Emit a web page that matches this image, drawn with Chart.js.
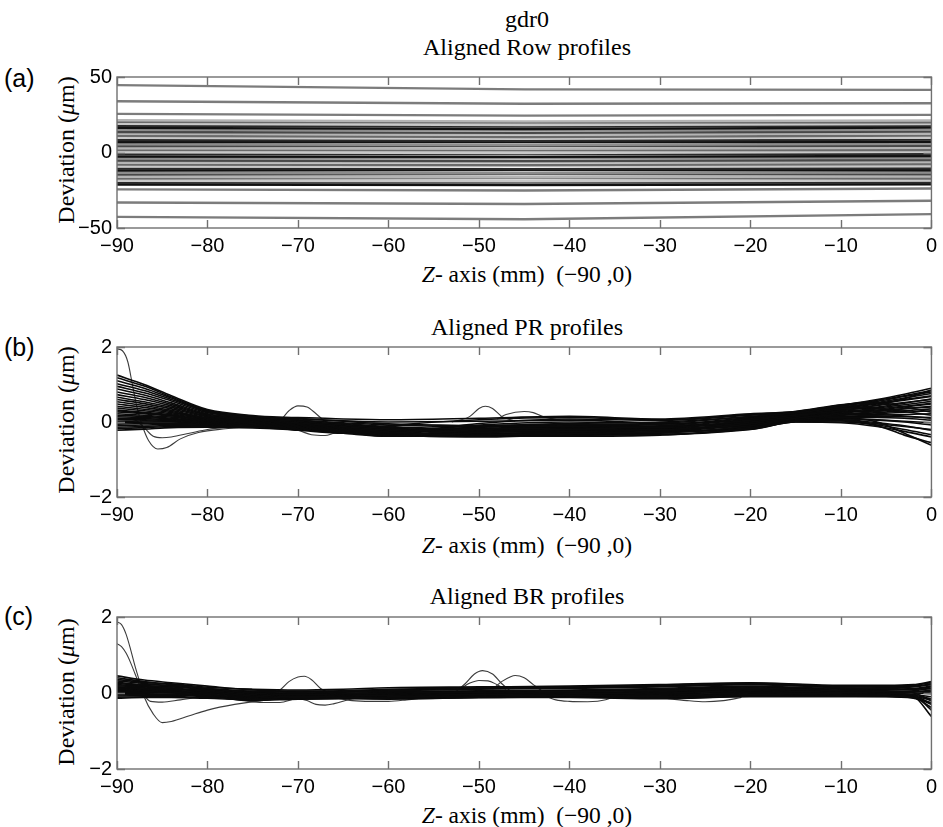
<!DOCTYPE html>
<html>
<head>
<meta charset="utf-8">
<script src="https://cdn.jsdelivr.net/npm/chart.js@4.4.1/dist/chart.umd.min.js"></script>
<style>
  html, body { margin: 0; padding: 0; background: #fff; }
  #page { position: relative; width: 943px; height: 827px; overflow: hidden; }
  canvas { position: absolute; left: 0; }
  .txt { position: absolute; white-space: nowrap; transform: translate(-50%, -50%); color: #000; }
  .serif { font-family: 'Liberation Serif', 'DejaVu Serif', serif; }
  .ttl { font-size: 24px; }
  .xlab { font-size: 23.5px; }
  .ylab { font-size: 24px; transform: translate(-50%, -50%) rotate(-90deg); }
  .tag { font-family: 'Liberation Sans', Arial, sans-serif; font-size: 25px; transform: translate(0, -50%); }
</style>
</head>
<body>
<div id="page">
  <div class="txt serif ttl" style="left:527px;top:19px">gdr0</div>
  <div class="txt serif ttl" style="left:527px;top:47px">Aligned Row profiles</div>
  <div class="txt tag" style="left:4px;top:78px">(a)</div>
  <div class="txt serif ylab" style="left:66px;top:150px">Deviation (<i>μ</i>m)</div>
  <div class="txt serif xlab" style="left:527px;top:274px"><i>Z</i>- axis (mm)&nbsp; (−90 ,0)</div>
  <canvas id="rowChart" width="943" height="198" style="top:60px"></canvas>

  <div class="txt serif ttl" style="left:527px;top:327px">Aligned PR profiles</div>
  <div class="txt tag" style="left:4px;top:347px">(b)</div>
  <div class="txt serif ylab" style="left:66px;top:420px">Deviation (<i>μ</i>m)</div>
  <div class="txt serif xlab" style="left:527px;top:545px"><i>Z</i>- axis (mm)&nbsp; (−90 ,0)</div>
  <canvas id="prChart" width="943" height="197" style="top:330px"></canvas>

  <div class="txt serif ttl" style="left:527px;top:596px">Aligned BR profiles</div>
  <div class="txt tag" style="left:4px;top:616px">(c)</div>
  <div class="txt serif ylab" style="left:66px;top:692px">Deviation (<i>μ</i>m)</div>
  <div class="txt serif xlab" style="left:527px;top:815px"><i>Z</i>- axis (mm)&nbsp; (−90 ,0)</div>
  <canvas id="brChart" width="943" height="199" style="top:600px"></canvas>
</div>

<script>
// ===== DATA =====
const zTicks = [-90, -80, -70, -60, -50, -40, -30, -20, -10, 0];
const rowYTicks = [-50, 0, 50];
const profYTicks = [-2, 0, 2];

// (a) row profiles: deviation at z = -90, -45 and 0
const rowZ = [-90, -45, 0];
const rowStart = [44.6, 33.9, 25.6, 21.4, 20.4, 19.0, 17.7, 16.3, 15.1, 13.6, 12.4, 11.0, 9.7, 8.2, 7.0, 5.5, 4.3, 2.8, 1.6, 0.1, -1.1, -2.6, -3.8, -5.3, -6.5, -8.0, -9.2, -10.7, -11.9, -13.4, -14.6, -16.1, -17.3, -18.8, -20.0, -21.3, -24.4, -33.1, -42.6];
const rowMid   = [41.8, 32.3, 24.4, 20.6, 19.8, 18.1, 17.2, 15.6, 14.7, 13.0, 12.1, 10.3, 9.6, 7.7, 6.9, 5.0, 4.2, 2.4, 1.5, -0.3, -1.0, -2.9, -3.7, -5.6, -6.3, -8.3, -9.0, -11.0, -11.6, -13.7, -14.3, -16.4, -17.0, -19.0, -19.8, -21.5, -25.2, -34.1, -44.2];
const rowEnd   = [41.5, 32.6, 24.9, 21.2, 20.0, 18.9, 17.6, 16.5, 15.0, 13.9, 12.5, 11.2, 9.8, 8.5, 7.1, 5.8, 4.4, 3.1, 1.7, 0.4, -1.0, -2.3, -3.7, -5.0, -6.4, -7.7, -9.1, -10.4, -11.8, -13.1, -14.5, -15.8, -17.2, -18.5, -19.9, -21.0, -23.8, -32.0, -40.8];

// (b) PR profiles on a common z grid
const prZ = [-90, -87, -84, -80, -75, -70, -65, -60, -50, -40, -30, -20, -15, -10, -6, -3, 0];
const prProfiles = [
  [1.25, 1.00, 0.70, 0.33, 0.17, 0.10, 0.02, -0.05, -0.10, -0.12, -0.15, 0.05, 0.18, 0.30, 0.45, 0.62, 0.85],
  [1.18, 0.96, 0.67, 0.31, 0.15, 0.06, -0.04, -0.12, -0.20, -0.25, -0.28, -0.10, 0.10, 0.20, 0.28, 0.35, 0.42],
  [1.10, 0.90, 0.64, 0.29, 0.12, 0.12, 0.08, 0.06, 0.10, 0.15, 0.08, 0.22, 0.28, 0.45, 0.60, 0.74, 0.90],
  [1.02, 0.84, 0.60, 0.27, 0.10, 0.02, -0.08, -0.18, -0.28, -0.30, -0.32, -0.18, 0.02, 0.05, -0.05, -0.12, -0.20],
  [0.95, 0.78, 0.56, 0.25, 0.14, 0.08, 0.03, 0.00, 0.02, 0.05, -0.02, 0.15, 0.25, 0.40, 0.52, 0.64, 0.76],
  [0.88, 0.72, 0.51, 0.22, 0.08, -0.02, -0.12, -0.22, -0.32, -0.35, -0.34, -0.15, 0.03, 0.08, 0.05, 0.00, -0.08],
  [0.80, 0.66, 0.47, 0.20, 0.11, 0.04, -0.02, -0.08, -0.12, -0.10, -0.12, 0.08, 0.20, 0.35, 0.44, 0.52, 0.60],
  [0.73, 0.60, 0.43, 0.18, 0.06, -0.04, -0.14, -0.26, -0.36, -0.38, -0.35, -0.20, 0.00, -0.02, -0.12, -0.25, -0.40],
  [0.66, 0.54, 0.39, 0.16, 0.09, 0.02, -0.06, -0.14, -0.18, -0.16, -0.20, 0.00, 0.15, 0.28, 0.35, 0.42, 0.50],
  [0.60, 0.49, 0.35, 0.14, 0.05, -0.06, -0.16, -0.28, -0.38, -0.36, -0.30, -0.12, 0.06, 0.12, 0.12, 0.10, 0.05],
  [0.54, 0.44, 0.31, 0.12, 0.07, 0.00, -0.08, -0.16, -0.22, -0.20, -0.22, -0.05, 0.12, 0.24, 0.30, 0.36, 0.40],
  [0.48, 0.39, 0.28, 0.10, 0.02, -0.08, -0.18, -0.30, -0.34, -0.32, -0.26, -0.08, 0.08, 0.15, 0.18, 0.20, 0.22],
  [0.42, 0.34, 0.25, 0.09, 0.04, -0.02, -0.10, -0.20, -0.26, -0.24, -0.24, -0.02, 0.14, 0.26, 0.32, 0.40, 0.48],
  [0.37, 0.30, 0.22, 0.07, 0.00, -0.10, -0.20, -0.32, -0.30, -0.28, -0.22, -0.04, 0.10, 0.18, 0.22, 0.26, 0.30],
  [0.32, 0.26, 0.19, 0.06, 0.03, -0.04, -0.12, -0.18, -0.24, -0.22, -0.18, 0.02, 0.16, 0.32, 0.40, 0.50, 0.62],
  [0.27, 0.22, 0.16, 0.04, -0.02, -0.12, -0.22, -0.34, -0.40, -0.34, -0.28, -0.14, 0.04, 0.10, 0.06, 0.02, -0.02],
  [0.22, 0.18, 0.13, 0.03, 0.02, -0.06, -0.14, -0.22, -0.16, -0.14, -0.10, 0.10, 0.22, 0.38, 0.50, 0.60, 0.70],
  [0.18, 0.15, 0.10, 0.02, -0.04, -0.14, -0.24, -0.36, -0.38, -0.30, -0.26, -0.16, 0.02, 0.03, -0.08, -0.20, -0.34],
  [0.14, 0.12, 0.08, 0.01, 0.00, -0.08, -0.16, -0.24, -0.14, -0.06, -0.06, 0.12, 0.24, 0.42, 0.55, 0.68, 0.80],
  [0.10, 0.09, 0.06, 0.00, -0.06, -0.16, -0.26, -0.38, -0.33, -0.26, -0.20, -0.06, 0.07, 0.14, 0.15, 0.14, 0.12],
  [0.06, 0.06, 0.04, -0.01, -0.02, -0.10, -0.18, -0.26, -0.20, -0.18, -0.16, 0.04, 0.18, 0.33, 0.38, 0.46, 0.55],
  [0.02, 0.03, 0.02, -0.03, -0.08, -0.18, -0.28, -0.36, -0.28, -0.20, -0.14, -0.02, 0.11, 0.20, 0.25, 0.30, 0.35],
  [-0.02, 0.00, 0.00, -0.04, -0.04, -0.12, -0.20, -0.28, -0.08, 0.00, -0.04, 0.06, 0.20, 0.36, 0.48, 0.58, 0.68],
  [-0.06, -0.04, -0.03, -0.06, -0.10, -0.19, -0.28, -0.34, -0.24, -0.16, -0.12, 0.00, 0.12, 0.22, 0.20, 0.16, 0.10],
  [-0.10, -0.08, -0.06, -0.08, -0.06, -0.14, -0.22, -0.30, -0.04, 0.08, 0.04, 0.18, 0.26, 0.44, 0.58, 0.70, 0.84],
  [-0.14, -0.12, -0.09, -0.10, -0.12, -0.20, -0.30, -0.38, -0.36, -0.24, -0.18, -0.10, 0.05, 0.06, -0.02, -0.10, -0.22],
  [-0.18, -0.15, -0.12, -0.12, -0.14, -0.22, -0.30, -0.32, -0.12, -0.04, 0.00, 0.14, 0.24, 0.40, 0.36, 0.28, 0.18],
  [-0.22, -0.19, -0.15, -0.14, -0.16, -0.20, -0.24, -0.10, 0.06, 0.12, 0.06, 0.20, 0.28, 0.46, 0.52, 0.40, 0.26],
  [0.00, -0.03, -0.05, -0.08, -0.12, -0.18, -0.26, -0.33, -0.26, -0.12, -0.08, -0.08, 0.06, 0.10, 0.00, -0.30, -0.62],
  [0.30, 0.24, 0.17, 0.05, 0.00, -0.08, -0.15, -0.22, -0.10, -0.08, -0.24, -0.19, 0.00, 0.00, -0.10, -0.35, -0.55]
];

// (b) profiles that leave the band, each with its own z samples
const prSpikeZ = [-90, -89.4, -88.8, -88.3, -87.8, -87.2, -86.5, -85.5, -84.5, -83, -81, -78, -75, -72, -70];
const prSpikeDev = [1.95, 1.90, 1.60, 1.00, 0.40, -0.10, -0.50, -0.72, -0.68, -0.45, -0.28, -0.18, -0.12, -0.10, -0.12];
const prDipZ = [-90, -88, -87, -86, -85, -84, -82, -80, -77];
const prDipDev = [0.10, 0.05, -0.15, -0.38, -0.42, -0.40, -0.30, -0.20, -0.12];
const prBump70Z = [-74, -72, -71, -70, -69, -68, -67, -65];
const prBump70Dev = [-0.02, 0.05, 0.30, 0.43, 0.40, 0.22, 0.02, -0.08];
const prDip67Z = [-72, -70, -68.5, -67, -66, -64, -62];
const prDip67Dev = [-0.15, -0.22, -0.34, -0.36, -0.30, -0.22, -0.20];
const prBump50Z = [-53, -51, -50, -49.3, -48.5, -47.5, -46];
const prBump50Dev = [0.00, 0.15, 0.36, 0.42, 0.36, 0.15, 0.02];
const prBump45Z = [-48, -47, -45, -44, -43, -41];
const prBump45Dev = [0.08, 0.20, 0.28, 0.25, 0.15, 0.05];

// (c) BR profiles on a common z grid
const brZ = [-90, -87, -84, -80, -75, -70, -65, -60, -50, -40, -30, -20, -10, -5, -2, 0];
const brProfiles = [
  [0.45, 0.34, 0.27, 0.18, 0.08, 0.05, 0.06, 0.10, 0.14, 0.16, 0.20, 0.26, 0.18, 0.18, 0.20, 0.28],
  [0.40, 0.30, 0.22, 0.12, 0.00, -0.05, -0.02, 0.00, 0.02, 0.04, 0.06, 0.12, 0.06, 0.04, 0.00, -0.20],
  [0.36, 0.28, 0.24, 0.15, 0.10, 0.08, 0.10, 0.14, 0.16, 0.18, 0.22, 0.27, 0.20, 0.20, 0.22, 0.30],
  [0.32, 0.25, 0.18, 0.08, -0.04, -0.10, -0.08, -0.06, -0.04, -0.02, 0.00, 0.06, 0.02, 0.00, -0.06, -0.45],
  [0.28, 0.22, 0.20, 0.12, 0.05, 0.02, 0.04, 0.06, 0.10, 0.12, 0.16, 0.22, 0.14, 0.12, 0.10, 0.12],
  [0.25, 0.20, 0.14, 0.05, -0.08, -0.12, -0.12, -0.10, -0.08, -0.06, -0.10, -0.04, -0.06, -0.08, -0.12, -0.30],
  [0.22, 0.18, 0.16, 0.10, 0.02, 0.00, 0.02, 0.04, 0.06, 0.08, 0.12, 0.18, 0.12, 0.14, 0.16, 0.22],
  [0.19, 0.16, 0.12, 0.03, -0.10, -0.14, -0.14, -0.12, -0.10, -0.08, -0.06, 0.00, -0.02, -0.05, -0.10, -0.62],
  [0.16, 0.14, 0.10, 0.06, -0.02, -0.04, -0.02, 0.02, 0.04, 0.06, 0.08, 0.14, 0.08, 0.06, 0.04, 0.05],
  [0.14, 0.12, 0.08, 0.00, -0.12, -0.15, -0.14, -0.14, -0.12, -0.12, -0.15, -0.10, -0.10, -0.10, -0.14, -0.25],
  [0.12, 0.10, 0.09, 0.08, 0.04, 0.04, 0.06, 0.08, 0.12, 0.14, 0.18, 0.24, 0.16, 0.16, 0.18, 0.24],
  [0.10, 0.08, 0.06, -0.02, -0.14, -0.12, -0.10, -0.08, -0.06, -0.04, -0.02, 0.02, 0.00, -0.02, -0.04, -0.10],
  [0.08, 0.07, 0.05, 0.04, 0.00, -0.02, 0.00, 0.00, 0.00, 0.02, 0.04, 0.10, 0.04, 0.02, 0.00, -0.02],
  [0.06, 0.05, 0.03, -0.04, -0.16, -0.16, -0.15, -0.15, -0.12, -0.10, -0.12, -0.06, -0.08, -0.09, -0.12, -0.38],
  [0.04, 0.04, 0.04, 0.02, -0.04, -0.06, -0.04, -0.02, 0.00, 0.00, 0.02, 0.08, 0.04, 0.08, 0.10, 0.16],
  [0.02, 0.02, 0.00, -0.06, -0.18, -0.14, -0.12, -0.12, -0.10, -0.06, -0.08, -0.02, -0.04, -0.04, -0.06, -0.16],
  [0.00, 0.00, 0.01, 0.00, -0.06, -0.08, -0.06, -0.04, -0.02, -0.02, 0.00, 0.06, 0.02, 0.00, 0.02, 0.08],
  [-0.02, -0.02, -0.03, -0.08, -0.20, -0.16, -0.14, -0.16, -0.12, -0.10, -0.14, -0.08, -0.06, -0.06, -0.08, -0.20],
  [-0.05, -0.04, -0.04, -0.06, -0.10, -0.10, -0.08, -0.06, -0.04, -0.04, -0.04, 0.04, 0.00, 0.02, 0.04, 0.00],
  [-0.08, -0.07, -0.06, -0.10, -0.16, -0.12, -0.10, -0.10, -0.08, -0.08, -0.10, -0.04, -0.04, -0.06, -0.08, -0.28],
  [-0.11, -0.10, -0.09, -0.12, -0.12, -0.08, -0.04, 0.00, 0.04, 0.06, 0.10, 0.16, 0.10, 0.10, 0.12, 0.18],
  [-0.14, -0.12, -0.12, -0.14, -0.18, -0.14, -0.12, -0.08, -0.06, -0.02, 0.02, 0.10, 0.06, 0.04, 0.06, 0.12]
];

// (c) profiles that leave the band
const brSpikeZ = [-90, -89.5, -89, -88.5, -88, -87.5, -87, -86, -85, -84, -82, -80, -77, -74, -71];
const brSpikeDev = [1.87, 1.80, 1.55, 1.15, 0.70, 0.30, -0.10, -0.55, -0.78, -0.75, -0.60, -0.45, -0.30, -0.20, -0.15];
const brSpike2Z = [-90, -89.5, -89, -88.5, -88, -87.5, -87, -86.3, -85, -83, -81, -78];
const brSpike2Dev = [1.30, 1.22, 1.05, 0.80, 0.50, 0.20, -0.05, -0.22, -0.24, -0.18, -0.12, -0.08];
const brBump70Z = [-73, -72, -71, -70, -69.3, -68.5, -67.5, -66.5];
const brBump70Dev = [0.00, 0.08, 0.30, 0.42, 0.44, 0.35, 0.12, 0.00];
const brDip67Z = [-71, -69, -68, -67, -66, -64, -62];
const brDip67Dev = [-0.10, -0.20, -0.30, -0.32, -0.28, -0.15, -0.08];
const brDip73Z = [-78, -76, -74, -72, -71, -70];
const brDip73Dev = [-0.15, -0.20, -0.25, -0.25, -0.20, -0.10];
const brDip62Z = [-66, -64, -62, -60, -58, -56];
const brDip62Dev = [-0.12, -0.20, -0.22, -0.22, -0.18, -0.12];
const brBump50Z = [-52.5, -51.5, -50.5, -49.6, -48.5, -47.5, -46.5];
const brBump50Dev = [0.05, 0.25, 0.50, 0.59, 0.50, 0.25, 0.05];
const brBump46Z = [-48.5, -47.5, -46.5, -46, -45, -44, -43];
const brBump46Dev = [0.10, 0.30, 0.43, 0.46, 0.40, 0.22, 0.05];
const brBumpLowZ = [-52, -51, -50, -49, -48, -47];
const brBumpLowDev = [0.12, 0.26, 0.33, 0.32, 0.22, 0.10];
const brDip38Z = [-43, -41.5, -40, -38, -36, -35];
const brDip38Dev = [-0.05, -0.18, -0.22, -0.23, -0.18, -0.08];
const brDip25Z = [-30, -27, -25, -23, -21];
const brDip25Dev = [-0.12, -0.20, -0.23, -0.20, -0.12];

// ===== STYLE =====
// grayscale version of the default line colour order
const rowColors = ['#111111', '#8c8c8c', '#484848', '#b4b4b4', '#6a6a6a', '#c8c8c8', '#2a2a2a'];
const tickFont = { family: "'Liberation Sans', Arial, sans-serif", size: 20 };

function toPoints(zs, ys) {
    return zs.map((z, i) => ({ x: z, y: ys[i] }));
}

// box round the plot area with inward tick marks on all four sides
const framePlugin = {
    id: 'frame',
    afterDatasetsDraw(chart) {
        const { ctx, chartArea: a, scales: { x, y } } = chart;
        const len = 8;
        ctx.save();
        ctx.strokeStyle = '#707070';
        ctx.lineWidth = 1.4;
        ctx.strokeRect(a.left, a.top, a.right - a.left, a.bottom - a.top);
        ctx.beginPath();
        x.ticks.forEach(t => {
            const px = Math.round(x.getPixelForValue(t.value)) + 0.5;
            ctx.moveTo(px, a.top); ctx.lineTo(px, a.top + len);
            ctx.moveTo(px, a.bottom); ctx.lineTo(px, a.bottom - len);
        });
        y.ticks.forEach(t => {
            const py = Math.round(y.getPixelForValue(t.value)) + 0.5;
            ctx.moveTo(a.left, py); ctx.lineTo(a.left + len, py);
            ctx.moveTo(a.right, py); ctx.lineTo(a.right - len, py);
        });
        ctx.stroke();
        ctx.restore();
    }
};

function fmt(v) {
    return v < 0 ? '\u2212' + Math.abs(v) : String(v);
}

function makeChart(id, datasets, yTicks, padTop) {
    const ctx = document.getElementById(id).getContext('2d');
    return new Chart(ctx, {
        type: 'line',
        data: { datasets },
        options: {
            responsive: false,
            animation: false,
            devicePixelRatio: 1,
            layout: { padding: { top: padTop, right: 6, left: 0, bottom: 0 } },
            plugins: { legend: { display: false }, tooltip: { enabled: false } },
            elements: { point: { radius: 0 } },
            scales: {
                x: {
                    type: 'linear',
                    min: -90, max: 0,
                    grid: { display: false, drawTicks: false },
                    border: { display: false },
                    afterBuildTicks: s => { s.ticks = zTicks.map(v => ({ value: v })); },
                    afterFit: s => { s.height = 30; },
                    ticks: { color: '#000', font: tickFont, padding: 6, maxRotation: 0, callback: fmt }
                },
                y: {
                    min: yTicks[0], max: yTicks[yTicks.length - 1],
                    grid: { display: false, drawTicks: false },
                    border: { display: false },
                    afterBuildTicks: s => { s.ticks = yTicks.map(v => ({ value: v })); },
                    afterFit: s => { s.width = 117; },
                    ticks: { color: '#000', font: tickFont, padding: 5, callback: fmt }
                }
            }
        },
        plugins: [framePlugin]
    });
}

// ===== (a) ROW PROFILES =====
const rowSets = rowStart.map((v, i) => ({
    data: toPoints(rowZ, [v, rowMid[i], rowEnd[i]]),
    borderColor: (i < 3 || i > 35) ? '#7c7c7c' : rowColors[i % rowColors.length],
    borderWidth: 2.4,
    tension: 0
}));
makeChart('rowChart', rowSets, rowYTicks, 15);

// ===== (b) and (c) PROFILES =====
const bandLine = (zs, ys) => ({
    data: toPoints(zs, ys),
    borderColor: '#0a0a0a',
    borderWidth: 1.6,
    cubicInterpolationMode: 'monotone'
});
const strayLine = (zs, ys) => ({
    data: toPoints(zs, ys),
    borderColor: '#3c3c3c',
    borderWidth: 1.1,
    cubicInterpolationMode: 'monotone'
});

const prSets = prProfiles.map(p => bandLine(prZ, p)).concat([
    strayLine(prSpikeZ, prSpikeDev),
    strayLine(prDipZ, prDipDev),
    strayLine(prBump70Z, prBump70Dev),
    strayLine(prDip67Z, prDip67Dev),
    strayLine(prBump50Z, prBump50Dev),
    strayLine(prBump45Z, prBump45Dev)
]);
makeChart('prChart', prSets, profYTicks, 13);

const brSets = brProfiles.map(p => bandLine(brZ, p)).concat([
    strayLine(brSpikeZ, brSpikeDev),
    strayLine(brSpike2Z, brSpike2Dev),
    strayLine(brBump70Z, brBump70Dev),
    strayLine(brDip67Z, brDip67Dev),
    strayLine(brDip73Z, brDip73Dev),
    strayLine(brDip62Z, brDip62Dev),
    strayLine(brBump50Z, brBump50Dev),
    strayLine(brBump46Z, brBump46Dev),
    strayLine(brBumpLowZ, brBumpLowDev),
    strayLine(brDip38Z, brDip38Dev),
    strayLine(brDip25Z, brDip25Dev)
]);
makeChart('brChart', brSets, profYTicks, 15);
</script>
</body>
</html>
